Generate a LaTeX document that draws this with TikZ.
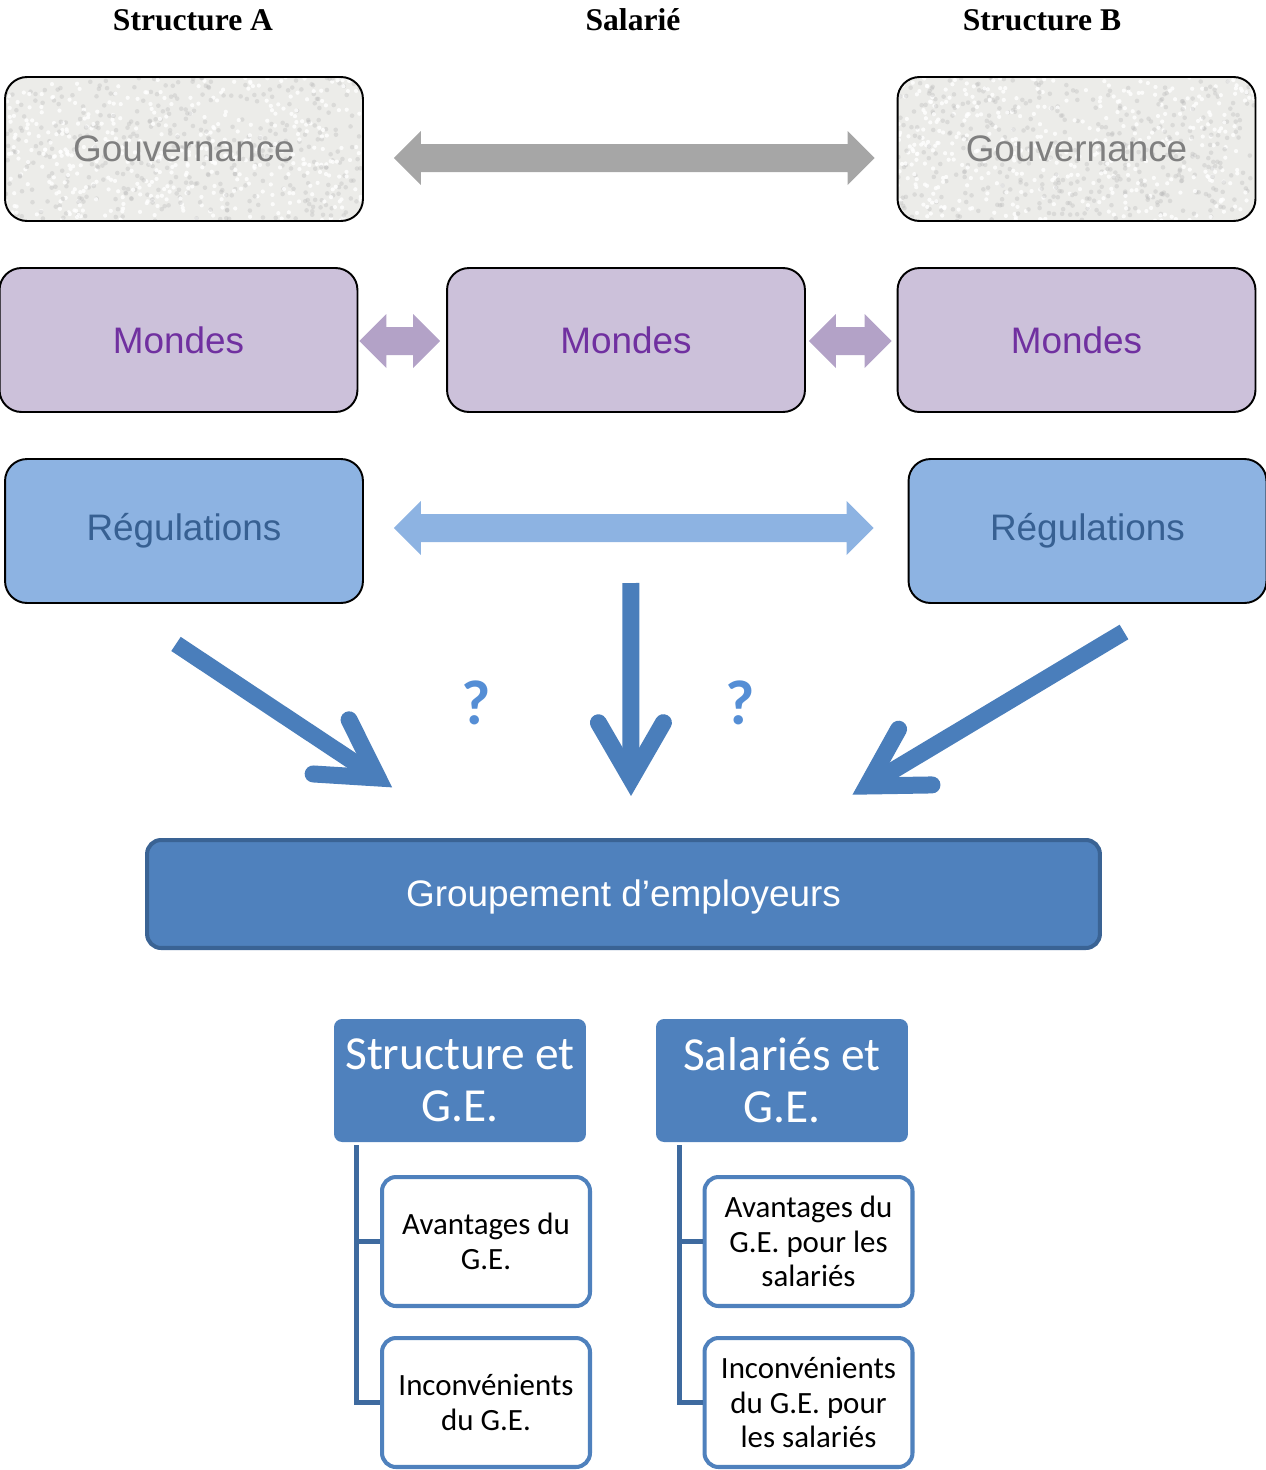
\documentclass[tikz,border=0pt]{standalone}
\usepackage{fontspec}
\setmainfont{Liberation Serif}
\newfontfamily\arialfont{Liberation Sans}
\newfontfamily\calibrifont{Carlito}
\usetikzlibrary{calc}
\definecolor{govfill}{HTML}{ECECE9}
\definecolor{govtext}{HTML}{7F7F7F}
\definecolor{govarrow}{HTML}{A6A6A6}
\definecolor{mondefill}{HTML}{CCC1DA}
\definecolor{mondetext}{HTML}{7030A0}
\definecolor{mondearrow}{HTML}{B3A2C7}
\definecolor{regfill}{HTML}{8DB3E2}
\definecolor{regtext}{HTML}{376092}
\definecolor{geblue}{HTML}{4F81BD}
\definecolor{geborder}{HTML}{3A6394}
\definecolor{arrowblue}{HTML}{4A7EBB}
\definecolor{askblue}{HTML}{558ED5}
\definecolor{branchblue}{HTML}{3E6A9F}

\begin{document}
\begin{tikzpicture}[x=0.02cm, y=-0.02cm,
  title/.style={font=\fontsize{18}{21}\selectfont\bfseries, inner sep=0pt},
  box/.style={rectangle, draw=black, line width=1.1pt, rounded corners=0.44cm,
    minimum width=7.16cm, minimum height=2.88cm, inner sep=0pt,
    font=\arialfont\fontsize{21}{25}\selectfont},
  gov/.style={box, fill=govfill, text=govtext,
    path picture={
      \foreach \k in {1,...,420}{
        \fill[gray!55, opacity=0.35] let \p1=(path picture bounding box.south west),
          \p2=(path picture bounding box.north east) in
          ({\x1+rnd*(\x2-\x1)},{\y1+rnd*(\y2-\y1)}) circle (1.3pt);
        \fill[white, opacity=0.8] let \p1=(path picture bounding box.south west),
          \p2=(path picture bounding box.north east) in
          ({\x1+rnd*(\x2-\x1)},{\y1+rnd*(\y2-\y1)}) circle (1.2pt);
      }
    }},
  monde/.style={box, fill=mondefill, text=mondetext},
  regul/.style={box, fill=regfill, text=regtext},
  groupe/.style={rectangle, draw=geborder, line width=2.3pt, fill=geblue,
    rounded corners=0.28cm, minimum width=19.06cm, minimum height=2.16cm,
    text=white, font=\arialfont\fontsize{21}{25}\selectfont},
  theme/.style={rectangle, fill=geblue, rounded corners=0.16cm,
    minimum width=5.04cm, minimum height=2.46cm, inner sep=0pt, align=center,
    text=white, font=\calibrifont\fontsize{27}{29.5}\selectfont},
  detail/.style={rectangle, draw=geblue, line width=2.3pt, fill=white,
    rounded corners=0.28cm, minimum width=4.16cm, minimum height=2.58cm,
    inner sep=0pt, align=center, font=\calibrifont\fontsize{17.6}{19.8}\selectfont},
  bigarrow/.style={draw=arrowblue, line width=0.34cm},
  branch/.style={draw=branchblue, line width=0.1cm},
  ask/.style={text=askblue, font=\calibrifont\bfseries\fontsize{36}{40}\selectfont},
]
\pgfmathsetseed{11}
\useasboundingbox (0,0) rectangle (1266,1470);

% === Column titles ===
\node[title] (hA) at (193,20) {Structure A};
\node[title] (hS) at (633,20) {Salarié};
\node[title] (hB) at (1042,20) {Structure B};

% === Gouvernance ===
\node[gov] (govA) at (184,149) {Gouvernance};
\node[gov] (govB) at (1076.5,149) {Gouvernance};
\coordinate (gvL) at ($(govA.east)+(30,9)$);
\coordinate (gvR) at ($(govB.west)+(-22,9)$);
\fill[govarrow] (gvL) -- ++(27,-27) -- ++(0,13) -- ($(gvR)+(-27,-14)$) -- ++(0,-13)
  -- (gvR) -- ++(-27,27) -- ++(0,-13) -- ($(gvL)+(27,14)$) -- ++(0,13) -- cycle;

% === Mondes ===
\node[monde] (monA) at (178.5,340) {Mondes};
\node[monde] (monS) at (626,340) {Mondes};
\node[monde] (monB) at (1076.5,340) {Mondes};
\coordinate (mnL1) at ($(monA.east)+(1,1)$);
\coordinate (mnR1) at ($(monS.west)+(-6,1)$);
\coordinate (mnL2) at ($(monS.east)+(3,1)$);
\coordinate (mnR2) at ($(monB.west)+(-5,1)$);
\fill[mondearrow] (mnL1) -- ++(27,-27) -- ++(0,13) -- ($(mnR1)+(-27,-14)$) -- ++(0,-13)
  -- (mnR1) -- ++(-27,27) -- ++(0,-13) -- ($(mnL1)+(27,14)$) -- ++(0,13) -- cycle;
\fill[mondearrow] (mnL2) -- ++(27,-27) -- ++(0,13) -- ($(mnR2)+(-27,-14)$) -- ++(0,-13)
  -- (mnR2) -- ++(-27,27) -- ++(0,-13) -- ($(mnL2)+(27,14)$) -- ++(0,13) -- cycle;

% === Regulations ===
\node[regul] (regA) at (184,531) {Régulations};
\node[regul] (regB) at (1087.5,531) {Régulations};
\coordinate (rgL) at ($(regA.east)+(30,-3)$);
\coordinate (rgR) at ($(regB.west)+(-34,-3)$);
\fill[regfill] (rgL) -- ++(27,-27) -- ++(0,13) -- ($(rgR)+(-27,-14)$) -- ++(0,-13)
  -- (rgR) -- ++(-27,27) -- ++(0,-13) -- ($(rgL)+(27,14)$) -- ++(0,13) -- cycle;

% === Groupement ===
\node[groupe] (ge) at (623.5,894) {};
\node[text=white, font=\arialfont\fontsize{21}{25}\selectfont] (getext) at ($(ge.center)+(0,3)$) {Groupement d’employeurs};

% === Arrows towards the groupement ===
\coordinate (rgmid) at ($(rgL)!0.5!(rgR)$);
\coordinate (lsrc) at ($(regA.south)+(-8,40)$);
\coordinate (ltip) at ($(ge.north)+(-245.5,-60)$);
\coordinate (msrc) at ($(rgmid)+(-3,55)$);
\coordinate (mtip) at ($(ge.north)+(7.5,-59)$);
\coordinate (rsrc) at ($(regB.south)+(36.5,28)$);
\coordinate (rtip) at ($(ge.north)+(243.5,-52)$);
\foreach \s/\t in {lsrc/ltip, msrc/mtip, rsrc/rtip}{
  \draw[bigarrow] (\s) -- (\t);
  \draw[bigarrow, line cap=round] ($(\t)!1.3cm!30:(\s)$) -- (\t) -- ($(\t)!1.3cm!-30:(\s)$);
}
\node[ask] (q1) at (476,703) {?};
\node[ask] (q2) at (740,703) {?};

% === Bottom: structure / salaries ===
\node[theme] (thA) at (460,1080.5) {Structure et\\G.E.};
\node[theme] (thB) at (782,1080.5) {Salariés et\\G.E.};
\node[detail] (dA1) at (486,1241.5) {Avantages du\\G.E.};
\node[detail] (dA2) at (486,1402.5) {Inconvénients\\du G.E.};
\node[detail] (dB1) at (808.5,1241.5) {Avantages du\\G.E. pour les\\salariés};
\node[detail] (dB2) at (808.5,1402.5) {Inconvénients\\du G.E. pour\\les salariés};
\draw[branch] ($(thA.south west)+(23,3)$) |- (dA2.west);
\draw[branch] ($(thA.south west)+(23,3)$) |- (dA1.west);
\draw[branch] ($(thB.south west)+(24,3)$) |- (dB2.west);
\draw[branch] ($(thB.south west)+(24,3)$) |- (dB1.west);
\end{tikzpicture}
\end{document}
